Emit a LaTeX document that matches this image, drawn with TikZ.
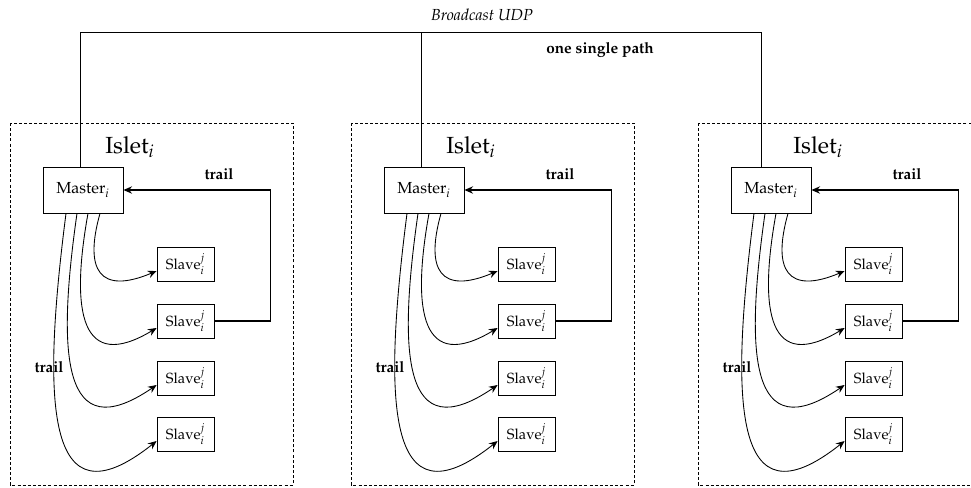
\documentclass[tikz,border=0pt]{standalone}
\usepackage[T1]{fontenc}
\usepackage{mathpazo}
\usetikzlibrary{arrows.meta,calc}

\begin{document}
\begin{tikzpicture}[x=0.75pt,y=-0.75pt,
  master/.style={draw, line width=0.6pt, minimum width=60pt, minimum height=34.5pt,
    inner sep=0pt, font=\fontsize{12}{14}\selectfont},
  slave/.style={draw, line width=0.6pt, minimum width=42.75pt, minimum height=25.5pt,
    inner sep=0pt, font=\fontsize{11}{13}\selectfont},
  isletbox/.style={draw, line width=0.6pt, dash pattern=on 2.25pt off 1.6pt},
  isletname/.style={font=\fontsize{17.5}{20}\selectfont},
  tip/.style={-{Stealth[length=6.5pt,width=5.5pt,inset=2.2pt]}},
  link/.style={tip, line width=0.65pt},
  trailpath/.style={tip, line width=1.1pt},
  tag/.style={font=\bfseries\fontsize{11.5}{13}\selectfont},
  bus/.style={line width=0.7pt}
]
\useasboundingbox (0,0) rectangle (971,487);
\clip (0,0) rectangle (971,487);

% broadcast bus taps
\coordinate (b1) at (80,32);
\coordinate (b2) at (421,32);
\coordinate (b3) at (761,32);

% one islet: master, four slaves and their links
\foreach \k/\dx in {1/0, 2/341, 3/688} {
  \begin{scope}[shift={(\dx,0)}]
    \draw[isletbox] (10,123) rectangle (293,485);
    \node[isletname] at (130,147) {Islet$_i$};
    \node[master] (m\k) at (83,190) {Master$_i$};
    \foreach \j/\y in {1/264, 2/321, 3/378, 4/434}
      \node[slave] (s\k\j) at (185.5,\y) {Slave$_i^j$};

    \draw[link] ($(m\k.south)+(17,0)$)  .. controls +(-16,57)  and +(-57,24) .. ($(s\k1.west)+(0,7)$);
    \draw[link] ($(m\k.south)+(5,0)$)   .. controls +(-18,100) and +(-75,45) .. ($(s\k2.west)+(0,7)$);
    \draw[link] ($(m\k.south)+(-6,0)$)  .. controls +(-20,140) and +(-95,65) .. ($(s\k3.west)+(0,7)$);
    \draw[link] ($(m\k.south)+(-17,0)$) .. controls +(-24,187) and +(-112,89) .. ($(s\k4.west)+(0,7)$);

    \draw[trailpath] (s\k2.east) -- ++(56,0) |- (m\k.east);
    \node[tag] at (219,174) {trail};
    \node[tag] at (49,367) {trail};
  \end{scope}
}

\draw[bus] (m1.north -| b1) -- (b1) -- (b3) -- (m3.north -| b3);
\draw[bus] (b2) -- (m2.north -| b2);

\node[font=\itshape\fontsize{12}{14}\selectfont] at (482,15) {Broadcast UDP};
\node[tag] at (600,50) {one single path};
\end{tikzpicture}
\end{document}
